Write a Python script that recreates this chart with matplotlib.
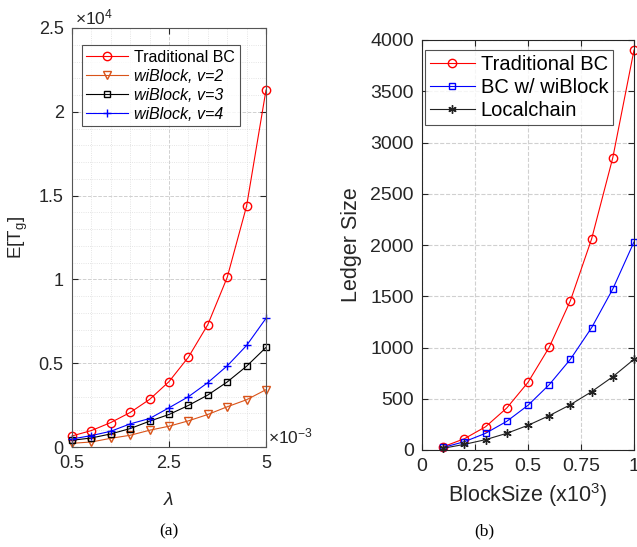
import matplotlib
matplotlib.use('Agg')
import matplotlib.pyplot as plt

plt.rcParams['font.family'] = ['Liberation Sans', 'DejaVu Sans']
plt.rcParams['mathtext.fontset'] = 'custom'
plt.rcParams['mathtext.rm'] = 'Liberation Sans'
plt.rcParams['mathtext.it'] = 'Liberation Sans:italic'

# (a) expected time vs lambda (x1e-3), values in raw units
lam = [0.5, 0.95, 1.4, 1.85, 2.3, 2.75, 3.2, 3.65, 4.1, 4.55, 5.0]
trad_a = [660, 980, 1460, 2060, 2840, 3900, 5360, 7300, 10120, 14380, 21300]
wib_v2 = [220, 300, 520, 700, 1000, 1240, 1560, 1940, 2400, 2820, 3420]
wib_v3 = [400, 540, 780, 1100, 1540, 1940, 2480, 3100, 3880, 4820, 5940]
wib_v4 = [480, 680, 940, 1380, 1700, 2340, 3000, 3840, 4840, 6060, 7680]
xticks_a = [0.5, 2.75, 5.0]
xticklabels_a = ['0.5', '2.5', '5']
yticks_a = [0, 5000, 10000, 15000, 20000, 25000]
yticklabels_a = ['0', '0.5', '1', '1.5', '2', '2.5']

# (b) ledger size vs block size (x1e3)
block = [0.1, 0.2, 0.3, 0.4, 0.5, 0.6, 0.7, 0.8, 0.9, 1.0]
trad_b = [32, 110, 227, 410, 660, 1002, 1457, 2059, 2852, 3902]
bc_wib = [25, 81, 163, 280, 436, 637, 885, 1193, 1571, 2030]
local = [17, 55, 101, 163, 241, 335, 442, 569, 715, 885]
xticks_b = [0, 0.25, 0.5, 0.75, 1]
xticklabels_b = ['0', '0.25', '0.5', '0.75', '1']

W, H = 637, 547
fig = plt.figure(figsize=(W / 100, H / 100), dpi=100)


def px_axes(l, t, r, b):
    return fig.add_axes([l / W, 1 - b / H, (r - l) / W, (b - t) / H])


dark = '#262626'
orange = '#D95319'

# ---- left panel
ax1 = px_axes(72, 28, 266, 447)
ax1.plot(lam, trad_a, color='red', lw=0.8, marker='o', ms=6, mfc='none',
         label='Traditional BC', clip_on=False)
ax1.plot(lam, wib_v2, color=orange, lw=0.8, marker='v', ms=5.5, mfc='none',
         label='wiBlock, v=2', clip_on=False)
ax1.plot(lam, wib_v3, color='black', lw=0.8, marker='s', ms=4.5, mfc='none',
         label='wiBlock, v=3', clip_on=False)
ax1.plot(lam, wib_v4, color='blue', lw=0.8, marker='+', ms=6,
         label='wiBlock, v=4', clip_on=False)
ax1.set_xlim(0.5, 5)
ax1.set_ylim(0, 25000)
ax1.set_xticks(xticks_a)
ax1.set_xticklabels(xticklabels_a)
ax1.set_xticks(lam, minor=True)
ax1.set_yticks(yticks_a)
ax1.set_yticklabels(yticklabels_a)
ax1.set_yticks(range(0, 25001, 1000), minor=True)
ax1.tick_params(which='major', direction='in', top=True, right=True,
                labelsize=13, colors=dark, length=4, pad=6)
ax1.tick_params(which='minor', length=0)
ax1.grid(True, which='major', ls='--', color='#d0d0d0', lw=0.7)
ax1.grid(True, which='minor', ls=':', color='#dcdcdc', lw=0.6)
ax1.set_axisbelow(True)
for s in ax1.spines.values():
    s.set_color('#555555')
ax1.set_ylabel('E[T$_\\mathrm{g}$]', fontsize=13.5, color=dark, labelpad=6)
ax1.set_xlabel('$\\lambda$', fontsize=14, color=dark, labelpad=14)
leg1 = ax1.legend(loc='upper left', bbox_to_anchor=(0.05, 0.96), fontsize=11.5,
                  handlelength=2.6, frameon=True, fancybox=False,
                  edgecolor=dark, borderpad=0.3, labelspacing=0.25,
                  handletextpad=0.4, borderaxespad=0)
leg1.get_frame().set_linewidth(0.8)
for i, t in enumerate(leg1.get_texts()):
    t.set_color('black')
    if i > 0:
        t.set_style('italic')
fig.text(75 / W, 1 - 17 / H, '×10$^{4}$', fontsize=12.5, color=dark,
         va='center', ha='left')
fig.text(268 / W, 1 - 443 / H, '×10$^{-3}$', fontsize=12.5, color=dark,
         va='baseline', ha='left')

# ---- right panel
ax2 = px_axes(422, 40, 634, 450)
ax2.plot(block, trad_b, color='red', lw=0.8, marker='o', ms=6, mfc='none',
         label='Traditional BC', clip_on=False)
ax2.plot(block, bc_wib, color='blue', lw=0.8, marker='s', ms=4.5, mfc='none',
         label='BC w/ wiBlock', clip_on=False)
ax2.plot(block, local, color='#222222', lw=0.8, marker=(6, 2, 0), ms=6,
         label='Localchain', clip_on=False)
ax2.set_xlim(0, 1)
ax2.set_ylim(0, 4000)
ax2.set_xticks(xticks_b)
ax2.set_xticklabels(xticklabels_b)
ax2.set_yticks(range(0, 4001, 500))
ax2.tick_params(direction='in', top=True, right=True, labelsize=14,
                colors=dark, length=4, pad=6)
ax2.grid(True, ls='--', color='#d0d0d0', lw=0.8)
ax2.set_axisbelow(True)
for s in ax2.spines.values():
    s.set_color(dark)
ax2.set_ylabel('Ledger Size', fontsize=15.5, color=dark, labelpad=6)
ax2.set_xlabel('BlockSize (x10$^{3}$)', fontsize=15.5, color=dark, labelpad=4)
leg2 = ax2.legend(loc='upper left', bbox_to_anchor=(0.015, 0.976), fontsize=14.5,
                  handlelength=2.2, frameon=True, fancybox=False,
                  edgecolor=dark, borderpad=0.25, labelspacing=0.2,
                  handletextpad=0.3, borderaxespad=0)
leg2.get_frame().set_linewidth(0.8)

fig.text(169 / W, 1 - 531 / H, '(a)', fontsize=12.5, family='Liberation Serif',
         ha='center', va='center')
fig.text(484 / W, 1 - 531 / H, '(b)', fontsize=12.5, family='Liberation Serif',
         ha='center', va='center')

fig.savefig('out.png', dpi=100)
